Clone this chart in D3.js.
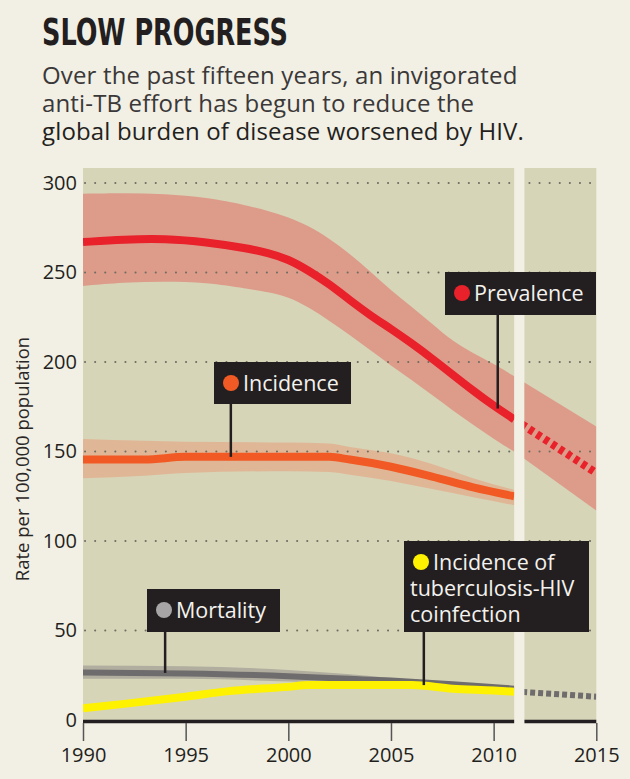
<!DOCTYPE html>
<html>
<head>
<meta charset="utf-8">
<script src="https://cdn.jsdelivr.net/npm/d3@7/dist/d3.min.js"></script>
<style>
  body { margin: 0; background: #f2efe4; }
  svg { display: block; }
</style>
</head>
<body>
<script>
// ---------- data ----------
var years = [1990, 1992, 1994, 1996, 1998, 1999, 2000, 2001, 2002, 2003, 2004, 2005, 2006, 2007, 2008, 2009, 2010, 2011];
var prevalence     = [267, 268.5, 269, 267, 263.5, 261, 257.5, 251, 243.5, 234.5, 226, 218.5, 210.5, 202, 193, 184, 175.5, 168];
var prevalenceHigh = [294, 294.5, 294, 292, 287.5, 284.5, 281, 276, 269, 260.5, 250.5, 240, 231, 221.5, 211.5, 205, 199, 192];
var prevalenceLow  = [242.5, 244.5, 245, 244.5, 241, 239, 236.5, 230.5, 223, 215, 206.5, 198, 190, 181.5, 173, 165, 157, 150];

var incYears = [1990, 1993, 1995, 2000, 2002, 2003, 2005, 2007, 2009, 2011];
var incidence     = [145.5, 145.5, 147, 147, 147, 145.5, 141.5, 136, 130, 125];
var incidenceHigh = [157, 156, 155.5, 155, 154.5, 152.5, 149, 143, 135, 128.5];
var incidenceLow  = [135, 136.5, 138, 139, 138.5, 137, 133.5, 129, 124.5, 120];

var mortYears = [1990, 1995, 2000, 2003, 2005, 2008, 2011];
var mortality     = [26.5, 26, 24.5, 23, 22, 20, 17.5];
var mortalityHigh = [30.5, 30, 28, 25.5, 23.5, 21, 19];
var mortalityLow  = [23, 23, 21.5, 20.5, 20, 18.5, 16.5];

var hivYears = [1990, 1992, 1995, 1997, 2000, 2001, 2004, 2006, 2008, 2010, 2011];
var hiv      = [6.5, 9, 13, 16, 18.5, 19.5, 19.5, 19.5, 17.5, 16.5, 15.8];

// projections 2011-2015
var projYears = [2011, 2015];
var prevalenceProj     = [168, 138];
var prevalenceProjHigh = [192, 164];
var prevalenceProjLow  = [150, 117];
var mortalityProj      = [16, 13];

var xTicks = [1990, 1995, 2000, 2005, 2010, 2015];
var yTicks = [0, 50, 100, 150, 200, 250, 300];

var labels = ['Prevalence', 'Incidence', 'Mortality', 'Incidence of|tuberculosis-HIV|coinfection'];

// ---------- layout ----------
var W = 630, H = 779;
var svg = d3.select('body').append('svg')
  .attr('width', W)
  .attr('height', H)
  .style('background', '#f2efe4');

var font = "'Open Sans', 'Liberation Sans', sans-serif";

var x = d3.scaleLinear().domain([1990, 2015]).range([83, 596.3]);
var y = d3.scaleLinear().domain([0, 300]).range([720, 183]);
var panelTop = 168;

// title + subtitle
svg.append('text').text('SLOW PROGRESS')
  .attr('x', 42).attr('y', 45)
  .attr('font-family', "'Liberation Sans Narrow', 'DejaVu Sans Condensed', sans-serif")
  .attr('font-weight', 'bold')
  .attr('font-size', 38)
  .attr('textLength', 246)
  .attr('lengthAdjust', 'spacingAndGlyphs')
  .attr('fill', '#231f20');

var sub = ['Over the past fifteen years, an invigorated',
           'anti-TB effort has begun to reduce the',
           'global burden of disease worsened by HIV.'];
svg.selectAll('.sub').data(sub).enter().append('text')
  .attr('class', 'sub')
  .attr('x', 42)
  .attr('y', function(d, i) { return 84 + i * 28; })
  .attr('font-family', font)
  .attr('font-size', 24)
  .attr('letter-spacing', 0.15)
  .attr('fill', function(d, i) { return i == 2 ? '#231f20' : '#3a3838'; })
  .text(function(d) { return d; });

// panels (broken at 2011)
var panels = [[1990, 2011], [2011.5, 2015]];
svg.selectAll('.panel').data(panels).enter().append('rect')
  .attr('class', 'panel')
  .attr('x', function(d) { return x(d[0]); })
  .attr('width', function(d) { return x(d[1]) - x(d[0]); })
  .attr('y', panelTop)
  .attr('height', y(0) - panelTop)
  .attr('fill', '#d6d5b8');

var defs = svg.append('defs');
defs.append('clipPath').attr('id', 'clipL').append('rect')
  .attr('x', x(1990)).attr('width', x(2011) - x(1990))
  .attr('y', panelTop).attr('height', y(0) - panelTop);
defs.append('clipPath').attr('id', 'clipR').append('rect')
  .attr('x', x(2011.5)).attr('width', x(2015) - x(2011.5))
  .attr('y', panelTop).attr('height', y(0) - panelTop);

var gL = svg.append('g').attr('clip-path', 'url(#clipL)');
var gR = svg.append('g').attr('clip-path', 'url(#clipR)');

function band(xs, hi, lo, curve) {
  return d3.area()
    .x(function(d, i) { return x(xs[i]); })
    .y0(function(d, i) { return y(lo[i]); })
    .y1(function(d, i) { return y(hi[i]); })
    .curve(curve || d3.curveMonotoneX)(hi);
}
function line(xs, vals, curve) {
  return d3.line()
    .x(function(d, i) { return x(xs[i]); })
    .y(function(d) { return y(d); })
    .curve(curve || d3.curveMonotoneX)(vals);
}

// bands
gL.append('path').attr('d', band(years, prevalenceHigh, prevalenceLow, d3.curveBasis)).attr('fill', '#dd9c8a');
gR.append('path').attr('d', band(projYears, prevalenceProjHigh, prevalenceProjLow)).attr('fill', '#dd9c8a');
gL.append('path').attr('d', band(incYears, incidenceHigh, incidenceLow)).attr('fill', '#e0b796');
gL.append('path').attr('d', band(mortYears, mortalityHigh, mortalityLow)).attr('fill', '#b1ae9f');

// dotted grid
var gridTicks = yTicks.filter(function(d) { return d > 0; });
[gL, gR].forEach(function(g) {
  g.selectAll('.grid').data(gridTicks).enter().append('line')
    .attr('class', 'grid')
    .attr('x1', x(1990) + 2).attr('x2', x(2015))
    .attr('y1', function(d) { return y(d); })
    .attr('y2', function(d) { return y(d); })
    .attr('stroke', '#6f6d62')
    .attr('stroke-width', 2)
    .attr('stroke-linecap', 'round')
    .attr('stroke-dasharray', '0.1,10');
});

// lines
gL.append('path').attr('d', line(mortYears, mortality))
  .attr('fill', 'none').attr('stroke', '#6e6c6c').attr('stroke-width', 6);
gL.append('path').attr('d', line(hivYears, hiv))
  .attr('fill', 'none').attr('stroke', '#fff200').attr('stroke-width', 8);
gL.append('path').attr('d', line(incYears, incidence))
  .attr('fill', 'none').attr('stroke', '#f15a24').attr('stroke-width', 8);
gL.append('path').attr('d', line(years, prevalence, d3.curveBasis))
  .attr('fill', 'none').attr('stroke', '#e8212b').attr('stroke-width', 8);

// projections (dashed)
gR.append('path').attr('d', line(projYears, prevalenceProj))
  .attr('fill', 'none').attr('stroke', '#e8212b').attr('stroke-width', 8)
  .attr('stroke-dasharray', '5,4');
gR.append('path').attr('d', line(projYears, mortalityProj))
  .attr('fill', 'none').attr('stroke', '#6e6c6c').attr('stroke-width', 6)
  .attr('stroke-dasharray', '5,3');

// x axis: thick broken base line + ticks
svg.selectAll('.base').data(panels).enter().append('line')
  .attr('class', 'base')
  .attr('x1', function(d) { return x(d[0]); })
  .attr('x2', function(d) { return x(d[1]); })
  .attr('y1', 721.5).attr('y2', 721.5)
  .attr('stroke', '#231f20').attr('stroke-width', 3.5);

var xAxis = svg.append('g')
  .attr('transform', 'translate(0,723)')
  .call(d3.axisBottom(x).tickValues(xTicks).tickFormat(d3.format('d'))
    .tickSize(18).tickPadding(6.5));
xAxis.select('.domain').remove();
xAxis.selectAll('line').attr('stroke', '#555').attr('stroke-width', 1.5);
xAxis.selectAll('text')
  .attr('font-family', font).attr('font-size', 20).attr('fill', '#231f20');

var yAxis = svg.append('g')
  .attr('transform', 'translate(' + x(1990) + ',0)')
  .call(d3.axisLeft(y).tickValues(yTicks).tickSize(0).tickPadding(6));
yAxis.select('.domain').remove();
yAxis.selectAll('text')
  .attr('font-family', font).attr('font-size', 20).attr('fill', '#231f20');

svg.append('text')
  .attr('transform', 'translate(29,459) rotate(-90)')
  .attr('text-anchor', 'middle')
  .attr('font-family', font).attr('font-size', 18.5)
  .attr('fill', '#2a2727')
  .text('Rate per 100,000 population');

// ---------- labels ----------
// box [x, y, w, h], dot colour, leader anchor [year, value]
var boxes = [
  { box: [445, 272, 151, 43], dot: '#e8212b', at: [2010.2, 174], text: labels[0] },
  { box: [214, 362, 137, 42], dot: '#f15a24', at: [1997.2, 147], text: labels[1] },
  { box: [147, 589, 133, 43], dot: '#a7a5a5', at: [1994.0, 26.3], text: labels[2] },
  { box: [404, 541, 185, 91], dot: '#fff200', at: [2006.6, 19.5], text: labels[3] }
];

boxes.forEach(function(b) {
  var lx = x(b.at[0]);
  svg.append('line')
    .attr('x1', lx).attr('x2', lx)
    .attr('y1', b.box[1] + b.box[3]).attr('y2', y(b.at[1]))
    .attr('stroke', '#231f20').attr('stroke-width', 2.5);
  svg.append('rect')
    .attr('x', b.box[0]).attr('y', b.box[1])
    .attr('width', b.box[2]).attr('height', b.box[3])
    .attr('fill', '#231f20');
  var lines = b.text.split('|');
  svg.append('circle')
    .attr('cx', b.box[0] + 17).attr('cy', b.box[1] + 21)
    .attr('r', 8).attr('fill', b.dot);
  lines.forEach(function(t, i) {
    svg.append('text')
      .attr('x', i == 0 ? b.box[0] + 29 : b.box[0] + 6)
      .attr('y', b.box[1] + 29 + i * 26)
      .attr('font-family', font).attr('font-size', 21.5)
      .attr('fill', '#f4f2ee')
      .text(t);
  });
});
</script>
</body>
</html>
